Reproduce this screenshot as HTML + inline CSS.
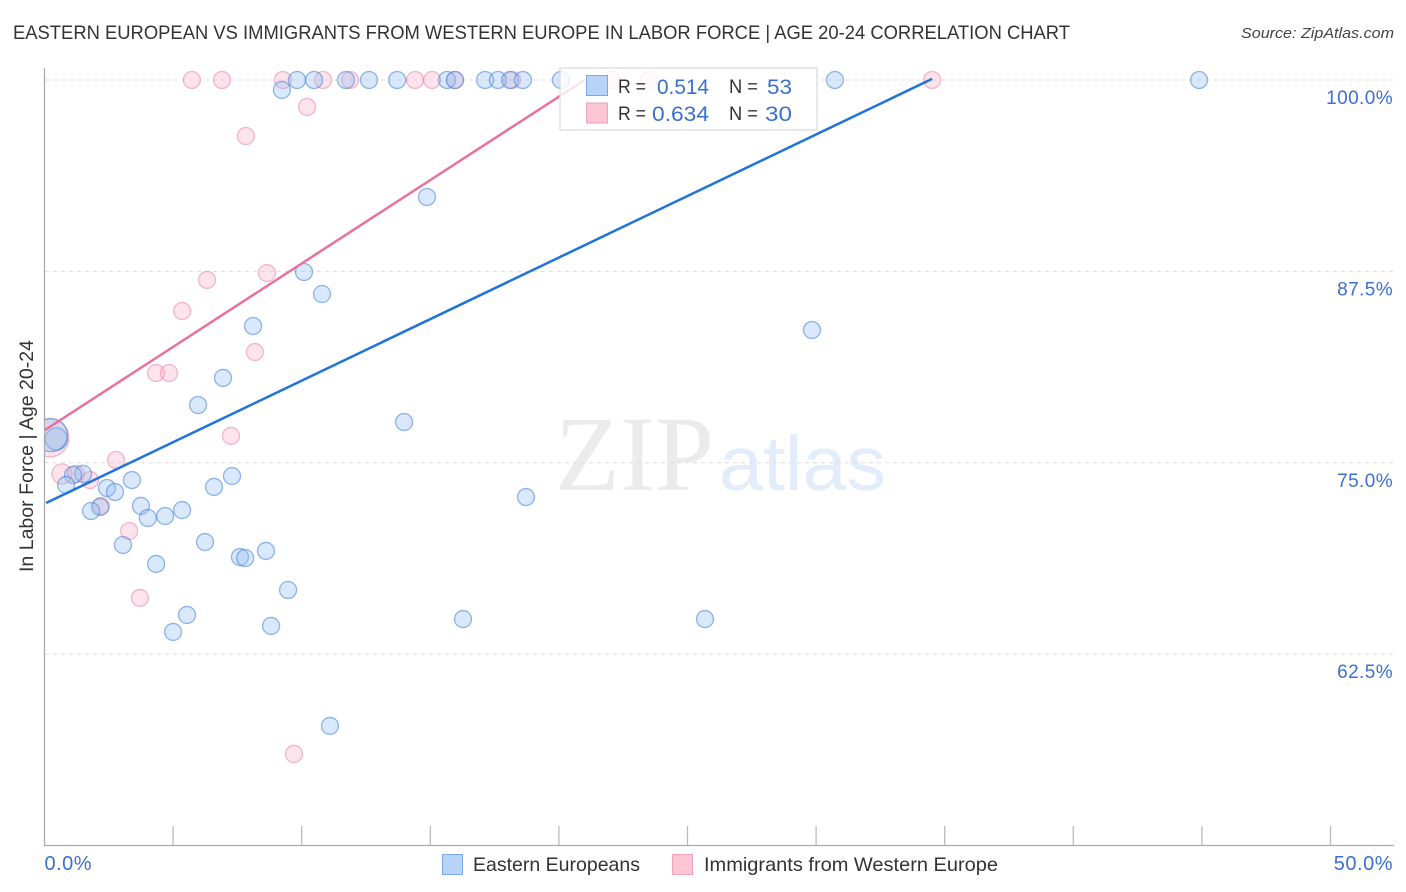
<!DOCTYPE html>
<html>
<head>
<meta charset="utf-8">
<title>Eastern European vs Immigrants from Western Europe in Labor Force | Age 20-24</title>
<style>
  html, body { margin: 0; padding: 0; background: #fff; }
  svg { display: block; font-family: "Liberation Sans", sans-serif; }
</style>
</head>
<body>
<svg id="chart" xmlns="http://www.w3.org/2000/svg" width="1406" height="892" viewBox="0 0 1406 892">
  <defs>
    <clipPath id="plot-clip"><rect x="45" y="60" width="1360" height="785"></rect></clipPath>
  </defs>
  <text x="13" y="39" font-size="19.5" fill="#333" textLength="1057" lengthAdjust="spacingAndGlyphs">EASTERN EUROPEAN VS IMMIGRANTS FROM WESTERN EUROPE IN LABOR FORCE | AGE 20-24 CORRELATION CHART</text>
  <text x="1241" y="38" font-size="15" font-style="italic" fill="#444" textLength="153" lengthAdjust="spacingAndGlyphs">Source: ZipAtlas.com</text>
  <g id="watermark">
    <text x="555" y="490" font-family="'Liberation Serif', serif" font-size="107" fill="#ebebeb" textLength="159" lengthAdjust="spacingAndGlyphs">ZIP</text>
    <text x="719" y="490" font-size="77" fill="#e3ecfa" textLength="167" lengthAdjust="spacingAndGlyphs">atlas</text>
  </g>
  <g id="grid"></g>
  <g id="points" clip-path="url(#plot-clip)"></g>
  <g id="trends"></g>
  <g id="axes"></g>
  <text transform="translate(33,456) rotate(-90)" text-anchor="middle" font-size="19" fill="#333" textLength="232" lengthAdjust="spacingAndGlyphs">In Labor Force | Age 20-24</text>

  <g>
    <rect x="560" y="68" width="257" height="62" fill="#fff" fill-opacity="0.8" stroke="#d8d8d8" stroke-width="1.2"></rect>
    <rect x="586.5" y="75.5" width="21" height="20" fill="#b7d3f8" stroke="#7aa9e6" stroke-width="1"></rect>
    <rect x="586.5" y="103" width="21" height="20" fill="#fcc5d6" stroke="#f2a3bc" stroke-width="1"></rect>
    <text x="618" y="93" font-size="19" fill="#333" textLength="28" lengthAdjust="spacingAndGlyphs">R =</text>
    <text x="657" y="94" font-size="21.5" fill="#3a70d0" textLength="52" lengthAdjust="spacingAndGlyphs">0.514</text>
    <text x="729" y="93" font-size="19" fill="#333" textLength="29" lengthAdjust="spacingAndGlyphs">N =</text>
    <text x="767" y="94" font-size="21.5" fill="#3a70d0" textLength="25" lengthAdjust="spacingAndGlyphs">53</text>
    <text x="618" y="120" font-size="19" fill="#333" textLength="28" lengthAdjust="spacingAndGlyphs">R =</text>
    <text x="652" y="121" font-size="21.5" fill="#3a70d0" textLength="57" lengthAdjust="spacingAndGlyphs">0.634</text>
    <text x="729" y="120" font-size="19" fill="#333" textLength="29" lengthAdjust="spacingAndGlyphs">N =</text>
    <text x="765" y="121" font-size="21.5" fill="#3a70d0" textLength="27" lengthAdjust="spacingAndGlyphs">30</text>
  </g>

  <g>
    <rect x="442.5" y="854.5" width="20" height="20" fill="#b7d3f8" stroke="#7aa9e6" stroke-width="1"></rect>
    <text x="473" y="871" font-size="19.5" fill="#333" textLength="167" lengthAdjust="spacingAndGlyphs">Eastern Europeans</text>
    <rect x="672.5" y="854.5" width="20" height="20" fill="#fcc5d6" stroke="#f2a3bc" stroke-width="1"></rect>
    <text x="704" y="871" font-size="19.5" fill="#333" textLength="294" lengthAdjust="spacingAndGlyphs">Immigrants from Western Europe</text>
  </g>
</svg>

<script>
// ---- Chart data ----
const yTickValues = [100, 87.5, 75, 62.5];
const yTickLabels = ["100.0%", "87.5%", "75.0%", "62.5%"];
const xTickValues = [5, 10, 15, 20, 25, 30, 35, 40, 45, 50];
const xEndValues = [0, 50];
const xEndLabels = ["0.0%", "50.0%"];

const easternX = [9.82, 10.48, 11.72, 12.62, 13.71, 15.65, 15.96, 17.13, 17.63, 18.10, 18.60, 20.08, 30.73, 44.89,
  9.23, 14.87, 10.09, 10.79, 8.11, 29.84, 6.94, 5.97, 13.98, 0.46, 0.25, 1.50, 1.11, 0.84, 7.29, 3.40, 2.43, 2.74,
  6.59, 18.72, 3.75, 2.16, 1.81, 5.35, 4.69, 4.02, 3.05, 6.24, 8.61, 7.60, 7.80, 4.34, 9.47, 5.54, 5.00, 8.81, 16.27, 25.68, 11.10];
const easternY = [100, 100, 100, 100, 100, 100, 100, 100, 100, 100, 100, 100, 100, 100,
  99.35, 92.36, 87.46, 86.02, 83.93, 83.67, 80.54, 78.77, 77.66, 76.55, 76.81, 74.27, 74.20, 73.55, 74.13, 73.87, 73.35, 73.09,
  73.42, 72.76, 72.18, 72.11, 71.85, 71.91, 71.52, 71.39, 69.63, 69.82, 69.24, 68.84, 68.78, 68.39, 66.69, 65.06, 63.95, 64.34, 64.79, 64.79, 57.81];
const easternWeight = [1, 1, 1, 1, 1, 1, 1, 1, 1, 1, 1, 1, 1, 1,
  1, 1, 1, 1, 1, 1, 1, 1, 1, 1.7, 3.8, 1, 1, 1, 1, 1, 1, 1,
  1, 1, 1, 1, 1, 1, 1, 1, 1, 1, 1, 1, 1, 1, 1, 1, 1, 1, 1, 1, 1];

const immigrantsX = [5.73, 6.90, 9.27, 10.83, 11.88, 14.41, 15.07, 15.96, 18.18, 22.06, 23.50, 34.51,
  10.21, 7.83, 8.65, 6.32, 5.35, 8.18, 4.34, 4.84, 7.25, 2.78, 0.21, 0.68, 1.22, 1.77, 2.20, 3.29, 3.71, 9.70];
const immigrantsY = [100, 100, 100, 100, 100, 100, 100, 100, 100, 100, 100, 100,
  98.24, 96.34, 87.39, 86.94, 84.91, 82.23, 80.86, 80.86, 76.75, 75.18, 76.62, 74.27, 74.27, 73.87, 72.18, 70.54, 66.17, 55.98];
const immigrantsWeight = [1, 1, 1, 1, 1, 1, 1, 1, 1, 1, 1, 1,
  1, 1, 1, 1, 1, 1, 1, 1, 1, 1, 5, 1.4, 1, 1, 1, 1, 1, 1];

const easternTrendX = [0.06, 34.51];
const easternTrendY = [72.37, 100.07];
const immigrantsTrendX = [0.02, 21.0];
const immigrantsTrendY = [77.14, 100];

// ---- Axis functions ----
function xScale(v) { return 44.5 + v * 25.72; }
function yScale(v) { return 80 + (100 - v) * 15.31; }
function radius(w) { return 8.5 * Math.sqrt(w); }

const NS = "http://www.w3.org/2000/svg";
function make(tag, attrs, parent) {
  const el = document.createElementNS(NS, tag);
  for (const k in attrs) el.setAttribute(k, attrs[k]);
  parent.appendChild(el);
  return el;
}

const gridG = document.getElementById("grid");
const axesG = document.getElementById("axes");
const pointsG = document.getElementById("points");
const trendsG = document.getElementById("trends");

// Gridlines and y tick labels
yTickValues.forEach(function (v, i) {
  const line = make("line", { x1: 45, x2: 1394, y1: yScale(v), y2: yScale(v), stroke: "#dcdcdc", "stroke-width": 1, "stroke-dasharray": "4 4" }, gridG);
  
  
  const label = make("text", { x: 1393, y: yScale(v) + 24, "text-anchor": "end", "font-size": 19, "letter-spacing": 0.4, fill: "#3a70d0" }, axesG);
  label.textContent = yTickLabels[i];
  
  
});

// Axes lines
const yAxis = make("line", { x1: 44.5, x2: 44.5, y1: 68, y2: 846, stroke: "#aaa", "stroke-width": 1.3 }, axesG);


const xAxis = make("line", { x1: 44, x2: 1394, y1: 845.5, y2: 845.5, stroke: "#aaa", "stroke-width": 1.3 }, axesG);



// X ticks
xTickValues.forEach(function (v) {
  const tick = make("line", { x1: xScale(v), x2: xScale(v), y1: 826, y2: 845, stroke: "#bbb", "stroke-width": 1.3 }, axesG);
  
  
});
xEndValues.forEach(function (v, i) {
  const label = make("text", { x: i === 0 ? xScale(v) : 1393, y: 870, "text-anchor": i === 0 ? "start" : "end", "font-size": 20, "letter-spacing": 0.5, fill: "#3a70d0" }, axesG);
  label.textContent = xEndLabels[i];
  
  
});

// Scatter marks
immigrantsX.forEach(function (v, i) {
  const c = make("circle", { cx: xScale(v), cy: yScale(immigrantsY[i]), r: radius(immigrantsWeight[i]), fill: "rgba(248,170,195,0.33)", stroke: "rgba(232,120,160,0.5)", "stroke-width": 1.3 }, pointsG);
  
  
});
easternX.forEach(function (v, i) {
  const c = make("circle", { cx: xScale(v), cy: yScale(easternY[i]), r: radius(easternWeight[i]), fill: "rgba(150,190,240,0.36)", stroke: "rgba(60,125,215,0.55)", "stroke-width": 1.3 }, pointsG);
  
  
});

// Trend lines
const trendEastern = make("line", { x1: xScale(easternTrendX[0]), y1: yScale(easternTrendY[0]), x2: xScale(easternTrendX[1]), y2: yScale(easternTrendY[1]), stroke: "#1f74d8", "stroke-width": 2.5 }, trendsG);


const trendImmigrants = make("line", { x1: xScale(immigrantsTrendX[0]), y1: yScale(immigrantsTrendY[0]), x2: xScale(immigrantsTrendX[1]), y2: yScale(immigrantsTrendY[1]), stroke: "#e8709c", "stroke-width": 2.5 }, trendsG);


</script>
</body>
</html>
